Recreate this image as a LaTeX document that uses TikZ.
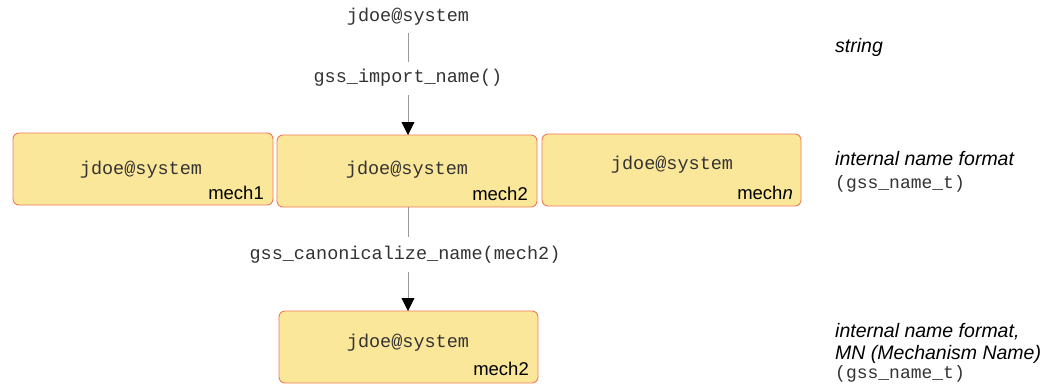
\documentclass[tikz,border=0pt]{standalone}
\usepackage{fontspec}
\setmainfont{Liberation Sans}
\setsansfont{Liberation Sans}
\setmonofont{Liberation Mono}
\usetikzlibrary{arrows.meta}
\definecolor{boxfill}{HTML}{FBE79A}
\definecolor{boxdraw}{HTML}{F07A5A}
\definecolor{linegray}{HTML}{999999}
\definecolor{monotext}{HTML}{333333}
\tikzset{
  mbox/.style={draw=boxdraw, fill=boxfill, rounded corners=6pt, line width=0.9pt},
  mono/.style={font=\fontsize{18.5}{21}\selectfont\ttfamily, text=monotext, inner sep=0pt},
  mech/.style={font=\fontsize{18.5}{21}\selectfont\sffamily, anchor=base east, inner sep=0pt},
  side/.style={font=\fontsize{19.5}{22}\selectfont\sffamily\itshape, anchor=base west, inner sep=0pt},
  sidemono/.style={font=\fontsize{18}{21}\selectfont\ttfamily, text=monotext, anchor=base west, inner sep=0pt},
  conn/.style={draw=linegray, line width=0.9pt},
  arr/.style={draw=linegray, line width=0.9pt, -{Triangle[length=13pt, width=13pt, color=black, fill=black]}}
}
\begin{document}
\begin{tikzpicture}[x=1pt,y=-1pt]
\useasboundingbox (0,0) rectangle (1048,384);
% top
\node[mono] (top) at (408,17) {jdoe@system};
\node[mono] (imp) at (408,78) {gss\_import\_name()};
% boxes
\draw[mbox] (13,133) rectangle (273,205);
\node[mono] (t1) at (141,170) {jdoe@system};
\node[mech] (m1) at (264,199) {mech1};

\draw[mbox] (277,135) rectangle (537,207);
\node[mono] (t2) at (407,170) {jdoe@system};
\node[mech] (m2) at (528,200) {mech2};
\coordinate (b2top) at (408,135);
\coordinate (b2bot) at (408,207);

\draw[mbox] (542,134) rectangle (801,206);
\node[mono] (t3) at (672,165) {jdoe@system};
\node[mech] (m3) at (793,199) {mech\textit{n}};

\node[mono] (can) at (405,255) {gss\_canonicalize\_name(mech2)};

\draw[mbox] (279,311) rectangle (538,383);
\coordinate (b4top) at (408,311);
\node[mono] (t4) at (408,343) {jdoe@system};
\node[mech] (m4) at (529,375) {mech2};

% connectors
\coordinate (c1a) at (408,33);
\coordinate (c1b) at (408,62);
\coordinate (a1) at (408,95);
\coordinate (c2b) at (408,237);
\coordinate (a2) at (408,272);
\draw[conn] (c1a) -- (c1b);
\draw[arr] (a1) -- (b2top);
\draw[conn] (b2bot) -- (c2b);
\draw[arr] (a2) -- (b4top);

% side labels
\node[side] (s1) at (835,52) {string};
\node[side] (s2) at (835,165) {internal name format};
\node[sidemono] (s3) at (835,188) {(gss\_name\_t)};
\node[side] (s4) at (835,337) {internal name format,};
\node[side] (s4b) at (835,359) {MN (Mechanism Name)};
\node[sidemono] (s5) at (835,378) {(gss\_name\_t)};
\end{tikzpicture}
\end{document}
